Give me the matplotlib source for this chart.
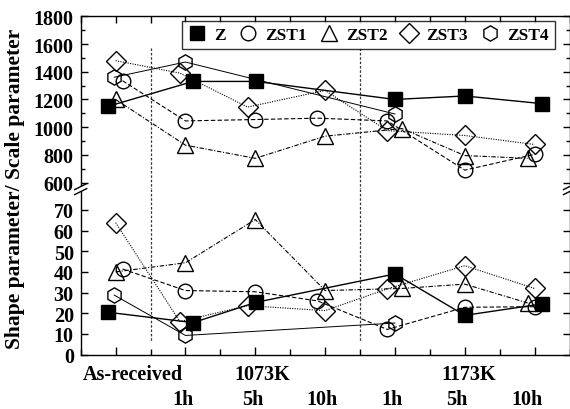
import numpy as np
import matplotlib
matplotlib.use("Agg")
from matplotlib import pyplot as plt
from matplotlib.lines import Line2D
from matplotlib.patches import Polygon
from matplotlib.ticker import MultipleLocator

# heat-treatment conditions along x
conditions = ["As-received", "1h", "5h", "10h", "1h", "5h", "10h"]
temperatures = ["1073K", "1173K"]
series_names = ["Z", "ZST1", "ZST2", "ZST3", "ZST4"]

# scale parameter (upper panel)
scale_Z = [1150, 1330, 1330, np.nan, 1200, 1225, 1170]
scale_ZST1 = [1335, 1045, 1055, 1065, 1045, 690, 805]
scale_ZST2 = [1200, 870, 775, 935, 990, 795, 775]
scale_ZST3 = [1480, 1390, 1145, 1265, 975, 940, 875]
scale_ZST4 = [1360, 1470, np.nan, np.nan, 1095, np.nan, np.nan]

# shape parameter (lower panel)
shape_Z = [20.5, 15.5, 25.3, np.nan, 39, 19, 24.5]
shape_ZST1 = [41.4, 31, 30.4, 26, 12.2, 22.9, 23.2]
shape_ZST2 = [40, 44.4, 65.3, 31, 32, 34.1, 25]
shape_ZST3 = [63.8, 16, 23.7, 21.3, 31.8, 43, 32]
shape_ZST4 = [28.8, 9.3, np.nan, np.nan, 15.3, np.nan, np.nan]

scale = dict(zip(series_names, [scale_Z, scale_ZST1, scale_ZST2, scale_ZST3, scale_ZST4]))
shape = dict(zip(series_names, [shape_Z, shape_ZST1, shape_ZST2, shape_ZST3, shape_ZST4]))

# small sideways nudges so overlapping symbols stay readable
x_shift = {
    "Z": [-0.11, 0.11, 0.01, 0, 0, 0, 0.1],
    "ZST1": [0.1, 0, 0, -0.11, -0.11, 0, 0.01],
    "ZST2": [0, 0, 0, 0, 0.1, 0, -0.1],
    "ZST3": [0, -0.08, -0.11, 0, -0.11, 0, 0],
    "ZST4": [-0.02, 0, 0, 0, 0, 0, 0],
}

styles = {
    "Z": dict(marker="s", ms=10, mfc="black", ls="-", lw=1.0),
    "ZST1": dict(marker="o", ms=10.5, mfc="none", ls=(0, (4, 2)), lw=0.8),
    "ZST2": dict(marker="^", ms=11, mfc="none", ls=(0, (4, 1.5, 1, 1.5)), lw=0.8),
    "ZST3": dict(marker="D", ms=10, mfc="none", ls=(0, (1, 1.2)), lw=0.8),
    "ZST4": dict(marker="h", ms=11, mfc="none", ls="-", lw=0.7),
}

plt.rcParams["font.family"] = ["Liberation Serif", "DejaVu Serif"]
plt.rcParams["font.weight"] = "bold"

W, H = 570, 410
fig = plt.figure(figsize=(W / 100, H / 100), dpi=100)


def fx(px):
    return px / W


def fy(py):
    return 1 - py / H


left, right = 80.7, 569.5
top, mid, bottom = 17.3, 190.1, 355.7
ax_top = fig.add_axes([fx(left), fy(mid), (right - left) / W, (mid - top) / H])
ax_bot = fig.add_axes([fx(left), fy(bottom), (right - left) / W, (bottom - mid) / H])

x = np.arange(len(conditions))
for ax, data in ((ax_top, scale), (ax_bot, shape)):
    for name in series_names:
        y = np.array(data[name], dtype=float)
        xs = x + np.array(x_shift[name])
        ok = ~np.isnan(y)
        ax.plot(xs[ok], y[ok], color="black", mec="black", mew=1.0, **styles[name])
    ax.set_xlim(-0.5, 6.5)
    ax.xaxis.set_major_locator(MultipleLocator(1))
    ax.xaxis.set_minor_locator(MultipleLocator(0.5))
    ax.tick_params(which="both", direction="in", top=True, right=True, width=1.0,
                   labelsize=14.5, pad=5)
    ax.tick_params(axis="x", which="major", length=6)
    ax.tick_params(axis="x", which="minor", length=4)
    for sp in ax.spines.values():
        sp.set_linewidth(1.0)

# upper panel: scale parameter
ax_top.set_ylim(553, 1800)
ax_top.yaxis.set_major_locator(MultipleLocator(200))
ax_top.yaxis.set_minor_locator(MultipleLocator(100))
ax_top.tick_params(axis="y", which="major", length=5)
ax_top.tick_params(axis="y", which="minor", length=3)
ax_top.tick_params(axis="x", which="both", bottom=False, labelbottom=False, length=5)
ax_top.set_yticks(np.arange(600, 1801, 200))
ax_top.spines["bottom"].set_visible(False)

# lower panel: shape parameter
ax_bot.set_ylim(0, 80)
ax_bot.set_yticks(np.arange(0, 71, 10))
ax_bot.tick_params(axis="y", which="major", length=5)
ax_bot.tick_params(axis="x", which="both", top=False, labelbottom=False)
ax_bot.spines["top"].set_visible(False)

# dividers between as-received / 1073K / 1173K groups
for xv in (0.5, 3.5):
    ax_top.plot([xv, xv], [1570, 553], color="#333333", lw=0.9, ls=(0, (2, 1.5)), zorder=1)
    ax_bot.plot([xv, xv], [80, 6], color="#333333", lw=0.9, ls=(0, (2, 1.5)), zorder=1)

# category labels under the axis
xt = ax_bot.get_xaxis_transform()
row1, row2 = -0.147, -0.298
ax_bot.text(0.25, row1, "As-received", transform=xt, ha="center", va="baseline", fontsize=14.5)
ax_bot.text(2.1, row1, temperatures[0], transform=xt, ha="center", va="baseline", fontsize=14.5)
ax_bot.text(5.05, row1, temperatures[1], transform=xt, ha="center", va="baseline", fontsize=14.5)
hour_pos = [0.96, 1.96, 2.96, 3.96, 4.88, 5.89]
for xp, lab in zip(hour_pos, conditions[1:]):
    ax_bot.text(xp, row2, lab, transform=xt, ha="center", va="baseline", fontsize=14.5)

fig.text(fx(15), fy(189), "Shape parameter/ Scale parameter", rotation=90,
         ha="center", va="center", fontsize=15.5)

# axis-break marks on both vertical spines
for xb in (left, right):
    ends = []
    for dy in (-2.5, 2.5):
        p0 = (fx(xb - 6), fy(mid + dy + 3))
        p1 = (fx(xb + 6), fy(mid + dy - 3))
        ends.append((p0, p1))
    gap = Polygon([ends[0][0], ends[0][1], ends[1][1], ends[1][0]], closed=True,
                  transform=fig.transFigure, facecolor="white", edgecolor="none", zorder=10)
    fig.add_artist(gap)
    for p0, p1 in ends:
        fig.add_artist(Line2D([p0[0], p1[0]], [p0[1], p1[1]], transform=fig.transFigure,
                              color="black", lw=1.0, zorder=11))

handles = [Line2D([], [], color="black", mec="black", mew=1.0, ls="none",
                  marker=styles[n]["marker"], ms=styles[n]["ms"], mfc=styles[n]["mfc"])
           for n in series_names]
leg = ax_top.legend(handles, series_names, ncol=5, loc="upper right",
                    bbox_to_anchor=(fx(555), fy(22)), bbox_transform=fig.transFigure,
                    frameon=True, fancybox=False, borderaxespad=0, borderpad=0.35,
                    handlelength=1.0, handletextpad=0.5, columnspacing=0.75,
                    prop={"size": 12.5, "weight": "bold"})
leg.get_frame().set_edgecolor("black")
leg.get_frame().set_linewidth(1.0)
leg.set_zorder(5)

fig.savefig("out.png", dpi=100)
